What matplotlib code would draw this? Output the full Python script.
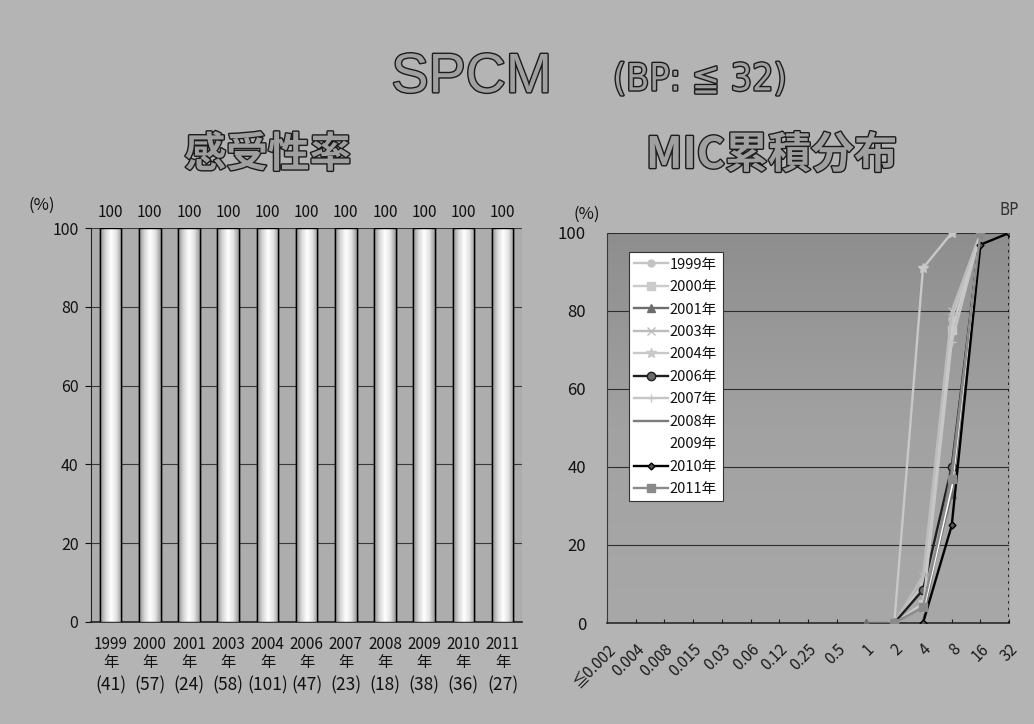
import numpy as np
import matplotlib
matplotlib.use('Agg')
import matplotlib.pyplot as plt
from matplotlib import patheffects as pe
from matplotlib.colors import LinearSegmentedColormap
from matplotlib.transforms import blended_transform_factory

plt.rcParams['font.family'] = ['Noto Sans CJK JP', 'DejaVu Sans']

# susceptibility per year
years = ['1999', '2000', '2001', '2003', '2004', '2006', '2007', '2008', '2009', '2010', '2011']
n_isolates = [41, 57, 24, 58, 101, 47, 23, 18, 38, 36, 27]
susceptible = [100, 100, 100, 100, 100, 100, 100, 100, 100, 100, 100]

# cumulative MIC distribution (%)
mic_labels = ['≦0.002', '0.004', '0.008', '0.015', '0.03', '0.06', '0.12', '0.25',
              '0.5', '1', '2', '4', '8', '16', '32']
nan = np.nan
pre = [nan] * 9
cum_1999 = pre + [nan, 0, 10, 78, 100, nan]
cum_2000 = pre + [nan, 0, 5, 75, 100, nan]
cum_2001 = pre + [0, 0, 4, 33, 100, nan]
cum_2003 = pre + [nan, 0, 12, 80, 100, nan]
cum_2004 = pre + [nan, 0, 91, 100, nan, nan]
cum_2006 = pre + [nan, 0, 8.5, 40, 100, nan]
cum_2007 = pre + [nan, 0, 4, 72, 100, nan]
cum_2008 = pre + [nan, nan, 0, 39, 100, nan]
cum_2009 = pre + [nan, nan, 3, 35, 100, nan]
cum_2010 = pre + [nan, nan, 0, 25, 97, 100]
cum_2011 = pre + [nan, 0, 4, 37, 100, nan]

series = [
    ('1999年', cum_1999, dict(color='#c4c4c4', marker='o', ms=5)),
    ('2000年', cum_2000, dict(color='#cbcbcb', marker='s', ms=6)),
    ('2001年', cum_2001, dict(color='#6e6e6e', marker='^', ms=6)),
    ('2003年', cum_2003, dict(color='#bcbcbc', marker='x', ms=6)),
    ('2004年', cum_2004, dict(color='#c8c8c8', marker='*', ms=7)),
    ('2006年', cum_2006, dict(color='#1e1e1e', marker='o', ms=6, mfc='#6a6a6a')),
    ('2007年', cum_2007, dict(color='#c6c6c6', marker='+', ms=6)),
    ('2008年', cum_2008, dict(color='#7c7c7c', marker='')),
    ('2009年', cum_2009, dict(color='white', marker='')),
    ('2010年', cum_2010, dict(color='black', marker='D', ms=3.5, mfc='#555555')),
    ('2011年', cum_2011, dict(color='#8a8a8a', marker='s', ms=6)),
]

fig = plt.figure(figsize=(10.34, 7.24), dpi=100)
fig.patch.set_facecolor('#b4b4b4')

title_fx = [pe.Stroke(linewidth=2.0, foreground='#1c1c1c'), pe.Normal()]
fig.text(0.456, 0.892, 'SPCM', fontsize=40, color='#a0a0a0', ha='center', va='center',
         family=['Liberation Sans', 'DejaVu Sans'], path_effects=title_fx)
fig.text(0.677, 0.889, '(BP: ≦ 32)', fontsize=27, color='#a0a0a0', ha='center', va='center',
         family=['DejaVu Sans', 'Noto Sans CJK JP'], stretch='condensed', path_effects=title_fx)
fig.text(0.259, 0.786, '感受性率', fontsize=30, color='#a0a0a0', ha='center', va='center',
         weight='bold', path_effects=title_fx)
fig.text(0.746, 0.786, 'MIC累積分布', fontsize=31, color='#a0a0a0', ha='center', va='center',
         weight='bold', path_effects=title_fx)

# ---- left: susceptibility bars ----
ax = fig.add_axes([0.088, 0.141, 0.417, 0.544])
ax.set_facecolor('#adadad')
x = np.arange(len(years))
bars = ax.bar(x, susceptible, width=0.55, color='white', edgecolor='black', linewidth=1.0, zorder=3)
cyl = LinearSegmentedColormap.from_list('cyl', ['#8e8e8e', '#d8d8d8', '#ffffff', '#e4e4e4', '#9a9a9a'])
grad = np.linspace(0, 1, 64).reshape(1, -1)
for b in bars:
    im = ax.imshow(grad, extent=(b.get_x(), b.get_x() + b.get_width(), 0, b.get_height()),
                   aspect='auto', cmap=cyl, zorder=3.5)
    im.set_clip_path(b)
    ax.bar(b.get_x() + b.get_width() / 2, b.get_height(), width=b.get_width(), fill=False,
           edgecolor='black', linewidth=1.0, zorder=4)
for xi, v in zip(x, susceptible):
    ax.annotate(str(v), (xi, v), xytext=(0, 5), textcoords='offset points',
                ha='center', va='bottom', fontsize=11, color='#111111')

ax.set_xlim(-0.5, len(years) - 0.5)
ax.set_ylim(0, 100)
ax.set_yticks(range(0, 101, 20))
ax.yaxis.grid(True, color='#3a3a3a', linewidth=0.8, zorder=1)
ax.set_axisbelow(True)
ax.set_xticks([])
ax.tick_params(axis='y', labelsize=11.5, length=4, colors='#111111', pad=5)
for s in ['top', 'right']:
    ax.spines[s].set_visible(False)
ax.spines['left'].set_color('#222222')
ax.spines['bottom'].set_color('#222222')
ax.spines['bottom'].set_linewidth(1.2)

trans = blended_transform_factory(ax.transData, ax.transAxes)
for xi, yr, n in zip(x, years, n_isolates):
    ax.text(xi, -0.058, yr, transform=trans, ha='center', va='center', fontsize=11, color='#111111')
    ax.text(xi, -0.104, '年', transform=trans, ha='center', va='center', fontsize=11, color='#111111')
    ax.text(xi, -0.160, f'({n})', transform=trans, ha='center', va='center', fontsize=12.5, color='#111111')
fig.text(42 / 1034, 1 - 205 / 724, '(%)', fontsize=12, ha='center', va='center', color='#111111')

# ---- right: cumulative MIC distribution ----
ax2 = fig.add_axes([0.587, 0.1395, 0.389, 0.5387])
ax2.set_facecolor('#a2a2a2')
shade = LinearSegmentedColormap.from_list('shade', ['#a8a8a8', '#a2a2a2', '#8e8e8e'])
ax2.imshow(np.linspace(0, 1, 128).reshape(-1, 1)[::-1], extent=(0, 1, 0, 1), transform=ax2.transAxes,
           aspect='auto', cmap=shade, zorder=0)
xm = np.arange(len(mic_labels))
for label, vals, st in series:
    st = dict(st)
    ms = st.pop('ms', 5)
    mfc = st.pop('mfc', st['color'])
    ax2.plot(xm, vals, label=label, linewidth=1.7, markersize=ms, markerfacecolor=mfc,
             markeredgecolor=st['color'], zorder=3, **st)
ax2.set_xlim(0, len(mic_labels) - 1)
ax2.set_ylim(0, 100)
ax2.set_yticks(range(0, 101, 20))
ax2.yaxis.grid(True, color='#2e2e2e', linewidth=0.8, zorder=1)
ax2.set_xticks(xm)
ax2.set_xticklabels(mic_labels, rotation=45, ha='right', va='top', rotation_mode='anchor')
ax2.tick_params(axis='x', labelsize=11, length=3, colors='#1a1a1a', pad=13, direction='in')
ax2.tick_params(axis='y', labelsize=12, length=0, colors='#111111', pad=15)
for s in ['top', 'right']:
    ax2.spines[s].set_visible(False)
ax2.spines['left'].set_color('#3a3a3a')
ax2.spines['bottom'].set_color('#2a2a2a')
ax2.spines['bottom'].set_linewidth(1.2)
ax2.axvline(len(mic_labels) - 1, color='black', linestyle=':', linewidth=1.8, zorder=4)
ax2.text(len(mic_labels) - 1, 1.035, 'BP', transform=blended_transform_factory(ax2.transData, ax2.transAxes),
         ha='center', va='bottom', fontsize=12, color='#333333', family=['DejaVu Sans'], stretch='condensed')
fig.text(587 / 1034, 1 - 214 / 724, '(%)', fontsize=12, ha='center', va='center', color='#111111')

leg = ax2.legend(loc='upper left', bbox_to_anchor=(0.055, 0.95), fontsize=10.5, frameon=True,
                 fancybox=False, edgecolor='#333333', facecolor='white', framealpha=1,
                 handlelength=2.3, handletextpad=0.15, labelspacing=0.58, borderpad=0.35,
                 borderaxespad=0)
leg.get_frame().set_linewidth(0.8)
for t in leg.get_texts():
    t.set_color('#111111')

fig.savefig('out.png', dpi=100, facecolor=fig.get_facecolor())
